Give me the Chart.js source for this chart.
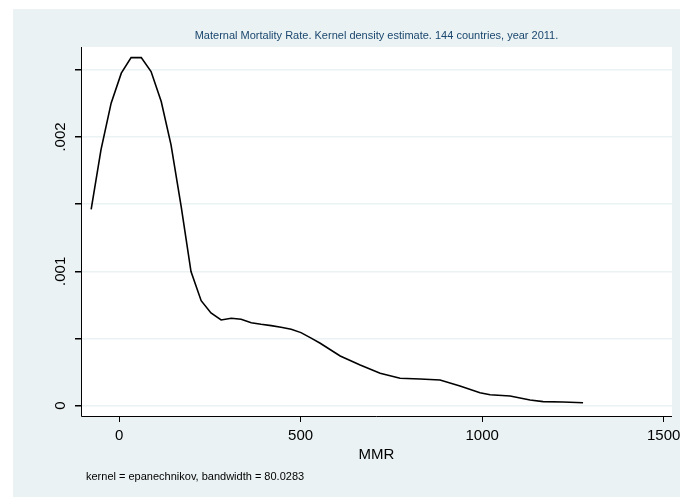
<!DOCTYPE html>
<html>
<head>
<meta charset="utf-8">
<script src="https://cdn.jsdelivr.net/npm/chart.js@4"></script>
<style>
  body { margin: 0; background: #fff; }
  #wrap { width: 680px; height: 497px; }
</style>
</head>
<body>
<div id="wrap"><canvas id="graph1" width="680" height="497"></canvas></div>
<script>
// MMR grid points and density estimate
let mmr = [-77, -50, -22, 6, 33, 61, 88, 116, 143, 171, 198, 226, 253, 281, 309, 336, 364, 391, 419, 446, 474, 501, 529, 554, 609, 664, 719, 774, 829, 884, 939, 994, 1022, 1077, 1132, 1168, 1223, 1278];
let density = [1.462, 1.904, 2.252, 2.475, 2.591, 2.591, 2.487, 2.264, 1.941, 1.482, 0.998, 0.782, 0.690, 0.638, 0.651, 0.643, 0.618, 0.606, 0.596, 0.584, 0.569, 0.544, 0.503, 0.465, 0.370, 0.303, 0.241, 0.204, 0.199, 0.191, 0.147, 0.097, 0.082, 0.072, 0.043, 0.030, 0.028, 0.022].map(v => v / 1000);
let xTicks = [0, 500, 1000, 1500];
let yTicks = [0, 0.0005, 0.001, 0.0015, 0.002, 0.0025];
let yLabels = {0: "0", 0.001: ".001", 0.002: ".002"};

let titleText = "Maternal Mortality Rate. Kernel density estimate. 144 countries, year 2011.";
let xTitle = "MMR";
let noteText = "kernel = epanechnikov, bandwidth = 80.0283";

let points = [];
for (let i = 0; i < mmr.length; i++) {
    points.push({x: mmr[i], y: density[i]});
}

const FONT = "'Liberation Sans', Arial, sans-serif";

const stataBg = {
    id: "stataBg",
    beforeDraw(chart) {
        const c = chart.ctx, a = chart.chartArea;
        c.save();
        c.fillStyle = "#eaf2f3";
        c.fillRect(13, 9, chart.width - 13, chart.height - 9);
        c.fillStyle = "#ffffff";
        c.fillRect(a.left, a.top, a.right - a.left, a.bottom - a.top);
        c.restore();
    },
    afterDraw(chart) {
        const c = chart.ctx, a = chart.chartArea, ys = chart.scales.y, xs = chart.scales.x;
        c.save();
        c.fillStyle = "#1a476f";
        c.font = "11px " + FONT;
        c.textAlign = "center";
        c.textBaseline = "middle";
        c.fillText(titleText, (a.left + a.right) / 2, 36);
        c.fillStyle = "#000";
        c.font = "15px " + FONT;
        c.fillText(xTitle, (a.left + a.right) / 2, 455);
        for (let v of xTicks) {
            c.fillText(String(v), xs.getPixelForValue(v), 436);
        }
        for (let v of yTicks) {
            let lab = yLabels[v];
            if (!lab) continue;
            let py = ys.getPixelForValue(v);
            c.save();
            c.translate(61, py);
            c.rotate(-Math.PI / 2);
            c.fillText(lab, 0, 0);
            c.restore();
        }
        c.font = "11px " + FONT;
        c.textAlign = "left";
        c.fillText(noteText, 86, 477);
        // axis lines
        c.strokeStyle = "#000";
        c.lineWidth = 1;
        c.beginPath();
        c.moveTo(a.left + 0.5, a.top);
        c.lineTo(a.left + 0.5, a.bottom + 0.5);
        c.lineTo(a.right, a.bottom + 0.5);
        c.stroke();
        c.restore();
    }
};

let ctx = document.getElementById("graph1").getContext("2d");
let chart = new Chart(ctx, {
    type: "line",
    data: {
        datasets: [{
            data: points,
            borderColor: "#000",
            borderWidth: 1.6,
            pointRadius: 0,
            tension: 0,
            fill: false
        }]
    },
    options: {
        responsive: false,
        animation: false,
        layout: {padding: {top: 47, right: 8, left: 0, bottom: 0}},
        plugins: {legend: {display: false}, tooltip: {enabled: false}},
        scales: {
            x: {
                type: "linear",
                min: -105, max: 1523,
                afterBuildTicks: s => { s.ticks = xTicks.map(v => ({value: v})); },
                afterFit: s => { s.height = 81; },
                border: {display: false},
                grid: {display: true, drawOnChartArea: false, drawTicks: true, tickLength: 6, color: "#000"},
                ticks: {display: false}
            },
            y: {
                type: "linear",
                min: -0.0000767, max: 0.00267,
                afterBuildTicks: s => { s.ticks = yTicks.map(v => ({value: v})); },
                afterFit: s => { s.width = 81; },
                border: {display: false},
                grid: {color: "#eaf2f3", lineWidth: 1.5, drawTicks: true, tickLength: 6,
                       tickColor: "#000"},
                ticks: {display: false}
            }
        }
    },
    plugins: [stataBg]
});
</script>
</body>
</html>
